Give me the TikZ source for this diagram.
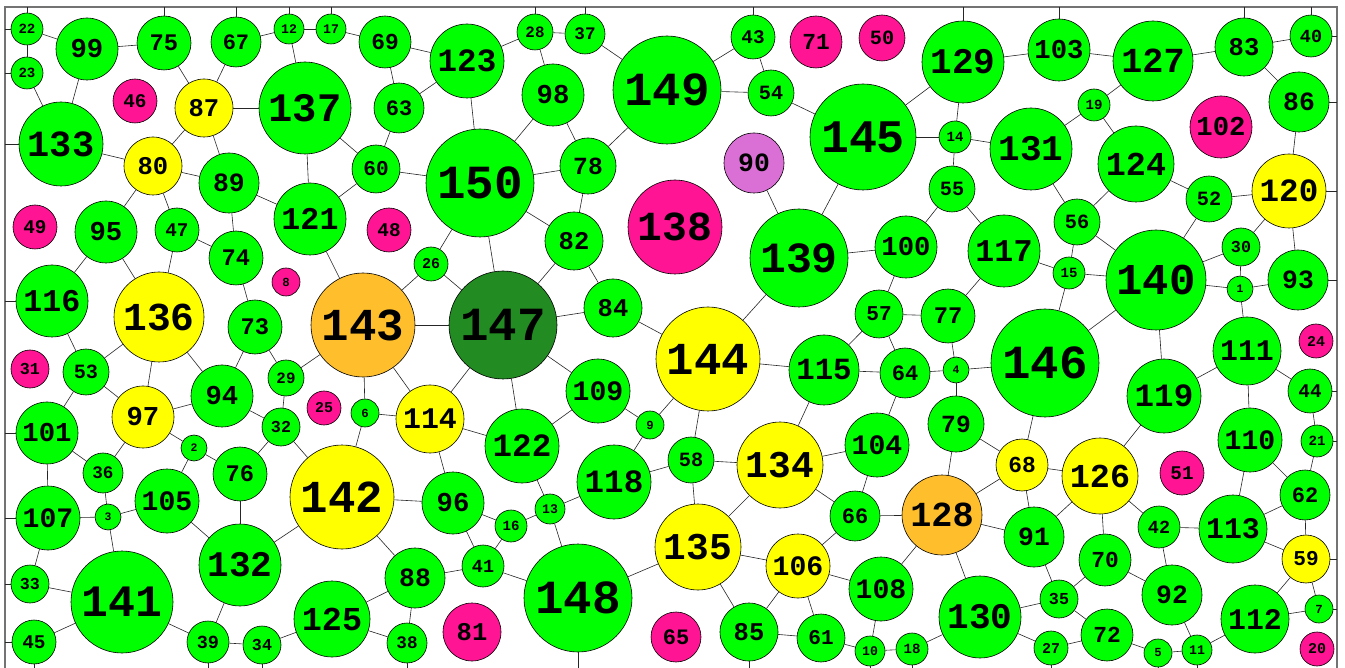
\documentclass[tikz,border=0pt]{standalone}
\usepackage{fontspec}
\setmonofont{Liberation Mono}
\definecolor{cgreen}{HTML}{00FF00}
\definecolor{cpink}{HTML}{FF1493}
\definecolor{cyellow}{HTML}{FFFF00}
\definecolor{corange}{HTML}{FFBE2C}
\definecolor{cdark}{HTML}{228B22}
\definecolor{corchid}{HTML}{DA70D6}
\tikzset{
  bub/.style={circle, draw=black, line width=0.6pt, inner sep=0pt, text=black},
  bgreen/.style={bub, fill=cgreen},
  bpink/.style={bub, fill=cpink},
  byellow/.style={bub, fill=cyellow},
  borange/.style={bub, fill=corange},
  bdark/.style={bub, fill=cdark},
  borchid/.style={bub, fill=corchid},
  edge/.style={draw=black!85, line width=0.6pt},
  frameline/.style={draw=black!55, line width=1.2pt}
}
\newcommand\mkbub[5]{%
  \pgfmathsetmacro\myfsz{0.88*#5}%
  \pgfmathsetmacro\mydia{2*#5}%
  \node[#1, minimum size=\mydia pt, font=\ttfamily\bfseries\fontsize{\myfsz pt}{\myfsz pt}\selectfont] (n#2) at (#3,#4) {#2};}
\begin{document}
\begin{tikzpicture}[x=1pt,y=-1pt]
\fill[white] (0,0) rectangle (1345,668);
\useasboundingbox (0,0) rectangle (1345,668);
\coordinate (T) at (0,7);
\coordinate (L) at (5,0);
\coordinate (R) at (1337,0);
\coordinate (B) at (0,668);
\draw[frameline] (5,668) -- (5,7) -- (1337,7) -- (1337,668);
% nodes
\mkbub{bgreen}{1}{1240}{289}{13}
\mkbub{bgreen}{2}{194}{448}{13}
\mkbub{bgreen}{3}{108}{517}{13}
\mkbub{bgreen}{4}{956}{370}{13}
\mkbub{bgreen}{5}{1158}{653}{14}
\mkbub{bgreen}{6}{365}{413}{14}
\mkbub{bgreen}{7}{1319}{609}{14}
\mkbub{bpink}{8}{286}{282}{14}
\mkbub{bgreen}{9}{650}{425}{14}
\mkbub{bgreen}{10}{870}{651}{15}
\mkbub{bgreen}{11}{1197}{650}{15}
\mkbub{bgreen}{12}{289}{29}{15}
\mkbub{bgreen}{13}{550}{509}{15}
\mkbub{bgreen}{14}{955}{137}{16}
\mkbub{bgreen}{15}{1069}{273}{16}
\mkbub{bgreen}{16}{511}{526}{16}
\mkbub{bgreen}{17}{331}{29}{15}
\mkbub{bgreen}{18}{912}{649}{16}
\mkbub{bgreen}{19}{1094}{105}{16}
\mkbub{bpink}{20}{1317}{649}{17}
\mkbub{bgreen}{21}{1317}{441}{16}
\mkbub{bgreen}{22}{27}{29}{16}
\mkbub{bgreen}{23}{27}{73}{16}
\mkbub{bpink}{24}{1316}{341}{17}
\mkbub{bpink}{25}{324}{408}{17}
\mkbub{bgreen}{26}{431}{264}{17}
\mkbub{bgreen}{27}{1051}{648}{17}
\mkbub{bgreen}{28}{535}{32}{18}
\mkbub{bgreen}{29}{286}{378}{18}
\mkbub{bgreen}{30}{1241}{247}{19}
\mkbub{bpink}{31}{30}{369}{19}
\mkbub{bgreen}{32}{281}{427}{19}
\mkbub{bgreen}{33}{30}{584}{19}
\mkbub{bgreen}{34}{262}{645}{19}
\mkbub{bgreen}{35}{1059}{599}{19}
\mkbub{bgreen}{36}{103}{473}{20}
\mkbub{bgreen}{37}{585}{34}{20}
\mkbub{bgreen}{38}{407}{643}{20}
\mkbub{bgreen}{39}{208}{642}{21}
\mkbub{bgreen}{40}{1311}{36}{21}
\mkbub{bgreen}{41}{483}{566}{21}
\mkbub{bgreen}{42}{1159}{527}{21}
\mkbub{bgreen}{43}{753}{37}{22}
\mkbub{bgreen}{44}{1310}{391}{22}
\mkbub{bgreen}{45}{34}{642}{22}
\mkbub{bpink}{46}{135}{101}{22}
\mkbub{bgreen}{47}{177}{230}{22}
\mkbub{bpink}{48}{389}{230}{22}
\mkbub{bpink}{49}{35}{227}{22}
\mkbub{bpink}{50}{882}{38}{23}
\mkbub{bpink}{51}{1182}{473}{22}
\mkbub{bgreen}{52}{1209}{199}{23}
\mkbub{bgreen}{53}{86}{372}{23}
\mkbub{bgreen}{54}{771}{93}{23}
\mkbub{bgreen}{55}{952}{189}{23}
\mkbub{bgreen}{56}{1077}{222}{23}
\mkbub{bgreen}{57}{879}{314}{24}
\mkbub{bgreen}{58}{691}{460}{23}
\mkbub{byellow}{59}{1306}{559}{24}
\mkbub{bgreen}{60}{376}{169}{24}
\mkbub{bgreen}{61}{821}{638}{24}
\mkbub{bgreen}{62}{1305}{495}{25}
\mkbub{bgreen}{63}{399}{108}{25}
\mkbub{bgreen}{64}{905}{373}{25}
\mkbub{bpink}{65}{676}{637}{25}
\mkbub{bgreen}{66}{855}{516}{25}
\mkbub{bgreen}{67}{236}{42}{25}
\mkbub{byellow}{68}{1022}{465}{26}
\mkbub{bgreen}{69}{385}{42}{26}
\mkbub{bgreen}{70}{1105}{560}{26}
\mkbub{bpink}{71}{816}{42}{26}
\mkbub{bgreen}{72}{1107}{635}{26}
\mkbub{bgreen}{73}{255}{327}{27}
\mkbub{bgreen}{74}{236}{258}{27}
\mkbub{bgreen}{75}{164}{43}{27}
\mkbub{bgreen}{76}{240}{474}{27}
\mkbub{bgreen}{77}{948}{316}{27}
\mkbub{bgreen}{78}{588}{166}{28}
\mkbub{bgreen}{79}{956}{424}{28}
\mkbub{byellow}{80}{153}{166}{29}
\mkbub{bpink}{81}{472}{632}{29}
\mkbub{bgreen}{82}{574}{241}{29}
\mkbub{bgreen}{83}{1244}{47}{29}
\mkbub{bgreen}{84}{613}{308}{29}
\mkbub{bgreen}{85}{749}{632}{29}
\mkbub{bgreen}{86}{1299}{102}{30}
\mkbub{byellow}{87}{204}{108}{29}
\mkbub{bgreen}{88}{415}{578}{30}
\mkbub{bgreen}{89}{229}{183}{30}
\mkbub{borchid}{90}{754}{163}{30}
\mkbub{bgreen}{91}{1034}{537}{30}
\mkbub{bgreen}{92}{1172}{595}{30}
\mkbub{bgreen}{93}{1298}{280}{30}
\mkbub{bgreen}{94}{222}{396}{31}
\mkbub{bgreen}{95}{106}{232}{31}
\mkbub{bgreen}{96}{453}{503}{31}
\mkbub{byellow}{97}{143}{417}{31}
\mkbub{bgreen}{98}{553}{95}{31}
\mkbub{bgreen}{99}{87}{49}{31}
\mkbub{bgreen}{100}{906}{247}{31}
\mkbub{bgreen}{101}{47}{433}{31}
\mkbub{bpink}{102}{1221}{127}{31}
\mkbub{bgreen}{103}{1059}{50}{31}
\mkbub{bgreen}{104}{877}{445}{32}
\mkbub{bgreen}{105}{167}{501}{32}
\mkbub{byellow}{106}{798}{566}{32}
\mkbub{bgreen}{107}{48}{518}{32}
\mkbub{bgreen}{108}{881}{589}{32}
\mkbub{bgreen}{109}{598}{391}{32}
\mkbub{bgreen}{110}{1250}{440}{32}
\mkbub{bgreen}{111}{1247}{351}{34}
\mkbub{bgreen}{112}{1255}{619}{34}
\mkbub{bgreen}{113}{1233}{529}{34}
\mkbub{byellow}{114}{430}{419}{34}
\mkbub{bgreen}{115}{824}{370}{35}
\mkbub{bgreen}{116}{52}{301}{36}
\mkbub{bgreen}{117}{1004}{251}{36}
\mkbub{bgreen}{118}{614}{482}{37}
\mkbub{bgreen}{119}{1164}{396}{37}
\mkbub{byellow}{120}{1289}{191}{37}
\mkbub{bgreen}{121}{310}{219}{36}
\mkbub{bgreen}{122}{522}{446}{37}
\mkbub{bgreen}{123}{467}{61}{37}
\mkbub{bgreen}{124}{1136}{164}{38}
\mkbub{bgreen}{125}{332}{619}{38}
\mkbub{byellow}{126}{1100}{476}{38}
\mkbub{bgreen}{127}{1153}{61}{40}
\mkbub{borange}{128}{942}{515}{40}
\mkbub{bgreen}{129}{963}{62}{41}
\mkbub{bgreen}{130}{980}{617}{41}
\mkbub{bgreen}{131}{1031}{149}{41}
\mkbub{bgreen}{132}{240}{565}{41}
\mkbub{bgreen}{133}{61}{144}{42}
\mkbub{byellow}{134}{780}{465}{43}
\mkbub{byellow}{135}{698}{547}{43}
\mkbub{byellow}{136}{159}{317}{45}
\mkbub{bgreen}{137}{305}{108}{46}
\mkbub{bpink}{138}{675}{227}{47}
\mkbub{bgreen}{139}{799}{258}{49}
\mkbub{bgreen}{140}{1156}{280}{50}
\mkbub{bgreen}{141}{122}{602}{51}
\mkbub{byellow}{142}{342}{497}{52}
\mkbub{borange}{143}{363}{325}{52}
\mkbub{byellow}{144}{708}{359}{52}
\mkbub{bgreen}{145}{863}{137}{53}
\mkbub{bgreen}{146}{1045}{363}{54}
\mkbub{bdark}{147}{503}{325}{54}
\mkbub{bgreen}{148}{578}{598}{54}
\mkbub{bgreen}{149}{667}{90}{54}
\mkbub{bgreen}{150}{480}{183}{54}
% edges between nodes
\foreach \a/\b in {22/99, 22/23, 23/133, 99/75, 99/133, 75/87, 67/87, 67/12, 12/17, 12/137, 17/69, 87/137, 87/80, 87/89, 133/80, 80/89, 80/95, 80/47, 89/121, 89/74, 137/121, 137/60, 121/60, 121/143,
69/123, 69/63, 63/123, 63/60, 60/150, 123/28, 123/150, 28/37, 28/98, 37/149, 98/150, 98/78, 78/150, 78/149, 78/82, 150/82, 150/147, 150/26,
149/43, 149/54, 43/54, 54/145, 129/145, 129/14, 129/103, 145/14, 145/139, 14/131, 14/55, 55/100, 55/117, 90/139,
103/127, 127/83, 127/19, 83/40, 83/86, 86/120, 19/131, 19/124, 131/56, 124/56, 124/52, 52/120, 52/140, 120/30, 120/93,
95/116, 95/136, 47/136, 47/74, 74/73, 116/53, 136/53, 136/97, 136/94, 73/94, 73/29, 29/143, 29/32, 94/97, 94/32, 53/101, 53/97, 97/2, 97/36, 32/76, 32/142,
26/143, 26/147, 143/147, 143/6, 143/114, 147/82, 147/84, 147/109, 147/114, 147/122, 82/84, 84/144, 6/114, 6/142, 114/122, 114/96, 109/9, 109/122, 9/144, 9/118,
139/100, 139/144, 100/57, 57/77, 57/115, 57/64, 77/117, 77/4, 144/115, 144/58, 115/64, 115/134, 64/4, 64/104, 4/146, 4/79, 79/68,
56/15, 56/140, 117/15, 15/140, 15/146, 140/146, 140/30, 140/1, 140/119, 30/1, 1/93, 1/111, 111/119, 111/44, 111/110, 44/21, 146/68, 119/126, 21/62,
101/36, 101/107, 36/3, 2/105, 2/76, 107/3, 107/33, 3/105, 3/141, 105/132, 76/132, 132/142, 132/39, 33/141, 141/45, 141/39, 39/34, 34/125,
142/96, 142/88, 96/16, 96/41, 122/13, 118/13, 118/58, 16/13, 16/41, 13/148, 88/41, 88/125, 88/38, 41/148, 125/38, 148/135,
58/134, 58/135, 134/104, 134/66, 134/135, 104/66, 128/79, 128/68, 128/66, 128/91, 128/108, 128/130, 135/106, 135/85, 66/106, 106/108, 106/85, 106/61, 85/61, 61/10, 108/10, 10/18, 18/130,
68/126, 68/91, 126/91, 126/70, 126/42, 110/113, 110/62, 62/113, 62/59, 91/35, 42/113, 42/92, 113/59, 70/35, 70/92, 59/112, 59/7, 35/130, 35/72, 92/11, 112/11, 112/7, 130/27, 27/72, 72/5, 5/11}
  \draw[edge] (n\a) -- (n\b);
% edges to the frame
\foreach \a in {22,75,67,12,17,28,37,43,129,103,83,40}
  \draw[edge] (n\a) -- (n\a |- T);
\foreach \a in {22,23,133,116,101,107,33,45}
  \draw[edge] (n\a) -- (n\a -| L);
\foreach \a in {40,86,120,93,44,21,59,7}
  \draw[edge] (n\a) -- (n\a -| R);
\foreach \a in {45,39,34,38,148,85,10,18,27,5,11}
  \draw[edge] (n\a) -- (n\a |- B);
\end{tikzpicture}
\end{document}
